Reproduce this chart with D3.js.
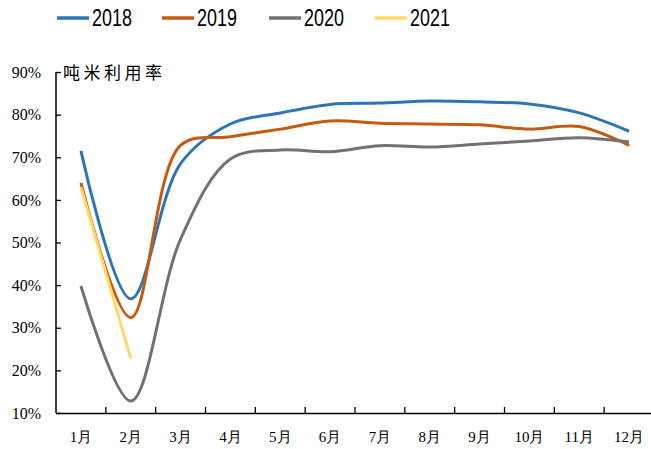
<!DOCTYPE html>
<html>
<head>
<meta charset="utf-8">
<script src="https://cdn.jsdelivr.net/npm/d3@7"></script>
<style>
  body { margin: 0; background: #fff; }
  svg { display: block; }
</style>
</head>
<body>
<svg width="651" height="449"></svg>
<script>
var months = ["1月", "2月", "3月", "4月", "5月", "6月", "7月", "8月", "9月", "10月", "11月", "12月"];
var yTicks = [10, 20, 30, 40, 50, 60, 70, 80, 90];

var v2018 = [71.5, 36.8, 68.5, 77.8, 80.4, 82.4, 82.7, 83.2, 83.0, 82.5, 80.4, 76.1];
var v2019 = [64.0, 32.4, 72.8, 74.8, 76.6, 78.5, 78.0, 77.8, 77.6, 76.6, 77.2, 72.8];
var v2020 = [39.8, 12.8, 50.8, 69.6, 71.7, 71.3, 72.7, 72.4, 73.1, 73.8, 74.6, 73.6];
var v2021 = [63.0, 22.8];

var series = [
    { name: "2018", color: "#2E75B6", values: v2018 },
    { name: "2019", color: "#C55A11", values: v2019 },
    { name: "2020", color: "#767171", values: v2020 },
    { name: "2021", color: "#FFD966", values: v2021 }
];

var serif = "'Liberation Serif', 'Times New Roman', serif";

var svg = d3.select("svg");

var x = d3.scaleBand().domain(months).range([56, 654]);
var y = d3.scaleLinear().domain([10, 90]).range([413, 72]);

// y axis, ticks point inward
var yAxis = svg.append("g")
    .attr("transform", "translate(56,0)")
    .call(d3.axisLeft(y).tickValues(yTicks).tickSize(-5).tickPadding(15)
        .tickFormat(function(d) { return d + "%"; }));
yAxis.select(".domain").attr("d", "M0,72V413").attr("stroke", "#000").attr("stroke-width", 1.5);
yAxis.selectAll(".tick line").attr("stroke", "#000").attr("stroke-width", 1.3);
yAxis.selectAll(".tick text")
    .style("font-family", serif)
    .style("font-size", "16px")
    .attr("fill", "#000");

// x axis line and boundary ticks
var xAxis = svg.append("g")
    .attr("transform", "translate(0,413)")
    .call(d3.axisBottom(x).tickSize(0).tickPadding(18));
xAxis.select(".domain").attr("stroke", "#000").attr("stroke-width", 1.5);
xAxis.selectAll(".tick text")
    .style("font-family", serif)
    .style("font-size", "15px")
    .attr("fill", "#000");

svg.append("g").selectAll("line")
    .data(months.slice(1))
    .enter()
    .append("line")
    .attr("x1", function(d) { return x(d); })
    .attr("x2", function(d) { return x(d); })
    .attr("y1", 413)
    .attr("y2", 407)
    .attr("stroke", "#000")
    .attr("stroke-width", 1.3);

// axis title
svg.append("text")
    .attr("x", 63)
    .attr("y", 79)
    .style("font-family", "'Noto Sans CJK SC', sans-serif")
    .style("font-size", "17px")
    .attr("letter-spacing", 3.5)
    .attr("fill", "#000")
    .text("吨米利用率");

var line = d3.line()
    .x(function(d, i) { return x(months[i]) + x.bandwidth() / 2; })
    .y(function(d) { return y(d); })
    .curve(d3.curveCatmullRom.alpha(0.5));

svg.append("g")
    .selectAll("path")
    .data(series)
    .enter()
    .append("path")
    .attr("d", function(d) { return line(d.values); })
    .attr("fill", "none")
    .attr("stroke", function(d) { return d.color; })
    .attr("stroke-width", 3)
    .attr("stroke-linecap", "butt");

// legend
var legendX = [57, 162, 269, 375];
var legend = svg.append("g")
    .selectAll("g")
    .data(series)
    .enter()
    .append("g")
    .attr("transform", function(d, i) { return "translate(" + legendX[i] + ",18)"; });

legend.append("line")
    .attr("x1", 0).attr("x2", 32)
    .attr("stroke", function(d) { return d.color; })
    .attr("stroke-width", 3.5);

legend.append("text")
    .attr("transform", "translate(35,0) scale(0.78,1)")
    .attr("dy", "0.36em")
    .style("font-family", "'Liberation Sans', Arial, sans-serif")
    .style("font-size", "23px")
    .attr("fill", "#000")
    .text(function(d) { return d.name; });
</script>
</body>
</html>
